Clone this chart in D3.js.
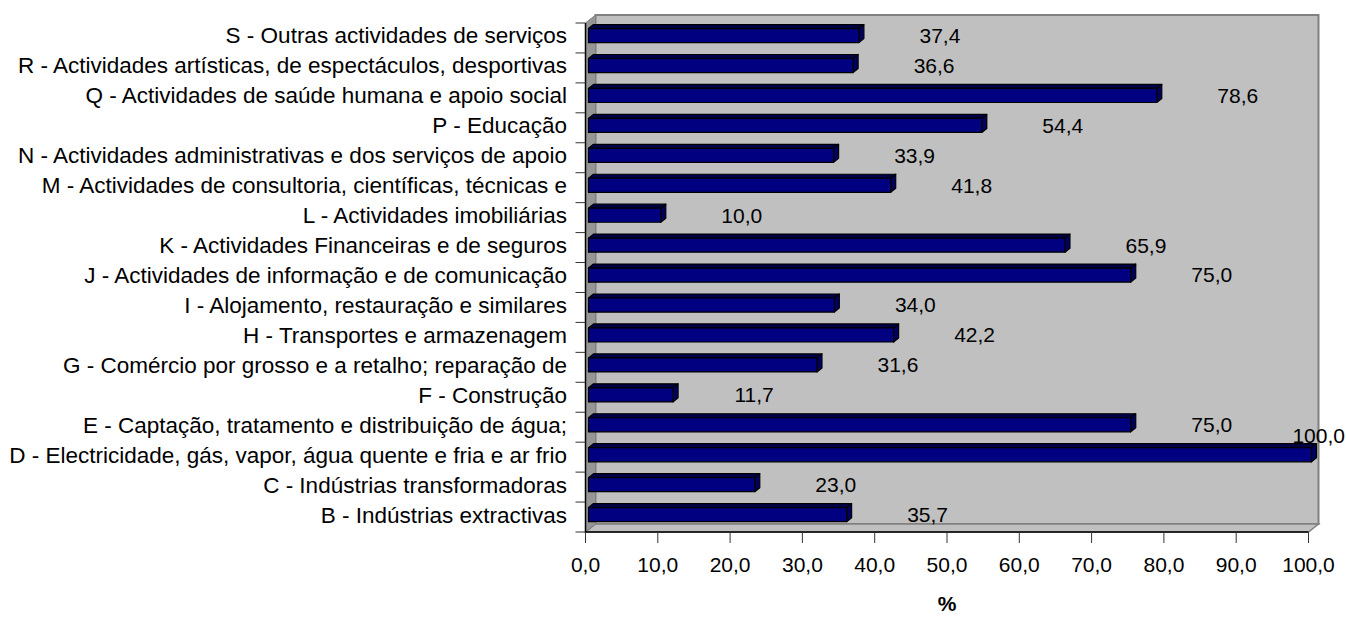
<!DOCTYPE html>
<html><head><meta charset="utf-8">
<script src="https://cdn.jsdelivr.net/npm/d3@7"></script>
<style>html,body{margin:0;padding:0;background:#fff;}svg{display:block;}</style>
</head><body>
<svg id="chart" width="1346" height="617"></svg>
<script>
const categories = [
  "B - Indústrias extractivas",
  "C - Indústrias transformadoras",
  "D - Electricidade, gás, vapor, água quente e fria e ar frio",
  "E - Captação, tratamento e distribuição de água;",
  "F - Construção",
  "G - Comércio por grosso e a retalho; reparação de",
  "H - Transportes e armazenagem",
  "I - Alojamento, restauração e similares",
  "J - Actividades de informação e de comunicação",
  "K - Actividades Financeiras e de seguros",
  "L - Actividades imobiliárias",
  "M - Actividades de consultoria, científicas, técnicas e",
  "N - Actividades administrativas e dos serviços de apoio",
  "P - Educação",
  "Q - Actividades de saúde humana e apoio social",
  "R - Actividades artísticas, de espectáculos, desportivas",
  "S - Outras actividades de serviços"
];
const values = [35.7, 23.0, 100.0, 75.0, 11.7, 31.6, 42.2, 34.0, 75.0, 65.9, 10.0, 41.8, 33.9, 54.4, 78.6, 36.6, 37.4];
const xTicks = [0, 10, 20, 30, 40, 50, 60, 70, 80, 90, 100];
const xTitle = "%";

(function () {
const W = 1346, H = 617;
const pL = 585.5, pR = 1308.5, pT = 23, pB = 532;
const ddx = 10, ddy = -8;      // wall depth offset
const fFront = 0.3, fBack = 0.8; // bar depth fractions
const FONT = "Liberation Sans, Arial, sans-serif";
const FS = 21, FSCAT = 22.5;

const svg = d3.select("#chart");
const x = d3.scaleLinear().domain([0, 100]).range([pL, pR]);
const y = d3.scaleBand().domain(categories.slice().reverse()).range([pT, pB]).padding(0);
const pts = a => a.map(p => p.join(",")).join(" ");

// Back wall
svg.append("rect").attr("x", pL + ddx).attr("y", pT + ddy)
  .attr("width", pR - pL).attr("height", pB - pT)
  .attr("fill", "#c0c0c0").attr("stroke", "#808080").attr("stroke-width", 2);
// Floor
svg.append("polygon")
  .attr("points", pts([[pL, pB], [pL + ddx, pB + ddy], [pR + ddx, pB + ddy], [pR, pB]]))
  .attr("fill", "#c0c0c0").attr("stroke", "#808080").attr("stroke-width", 1.5);
// Left side wall
svg.append("polygon")
  .attr("points", pts([[pL, pT], [pL + ddx, pT + ddy], [pL + ddx, pB + ddy], [pL, pB]]))
  .attr("fill", "#969696").attr("stroke", "#808080").attr("stroke-width", 1);

// Bars
const bh = y.bandwidth() * 0.47;
const ox = ddx * fFront, oy = ddy * fFront;
const dx = ddx * (fBack - fFront), dy = ddy * (fBack - fFront);
const bars = svg.append("g");
categories.forEach((c, i) => {
  const v = values[i];
  const yc = y(c) + y.bandwidth() / 2 + oy;
  const x0 = x(0) + ox, x1 = x(v) + ox;
  const y0 = yc - bh / 2, y1 = yc + bh / 2;
  const g = bars.append("g").attr("stroke", "#000").attr("stroke-width", 1.2).attr("stroke-linejoin", "round");
  g.append("polygon").attr("points", pts([[x0, y0], [x1, y0], [x1 + dx, y0 + dy], [x0 + dx, y0 + dy]]))
    .attr("fill", "#00004a");
  g.append("polygon").attr("points", pts([[x1, y0], [x1 + dx, y0 + dy], [x1 + dx, y1 + dy], [x1, y1]]))
    .attr("fill", "#000060");
  g.append("rect").attr("x", x0).attr("y", y0).attr("width", x1 - x0).attr("height", y1 - y0)
    .attr("fill", "#000080");
});

// Value labels
categories.forEach((c, i) => {
  const v = values[i];
  const yc = y(c) + y.bandwidth() / 2 + oy;
  let cx = x(v) + ox + 81;
  let cy = yc;
  const t = svg.append("text").attr("font-family", FONT).attr("font-size", FS).attr("fill", "#000")
    .attr("text-anchor", "middle").attr("dy", "0.35em")
    .text(d3.format(".1f")(v).replace(".", ","));
  t.attr("x", cx).attr("y", cy);
  const w = t.node().getComputedTextLength();
  if (cx + w / 2 > W - 1) {
    cx = W - 1 - w / 2;
    cy = yc - 19;
    t.attr("x", cx).attr("y", cy);
  }
});

// Category axis
const yAxis = svg.append("g");
yAxis.append("line").attr("x1", pL).attr("x2", pL).attr("y1", pT).attr("y2", pB)
  .attr("stroke", "#000").attr("stroke-width", 1.5);
const tickYs = categories.map(c => y(c)).concat([pB]);
tickYs.forEach(ty => {
  yAxis.append("line").attr("x1", pL - 10).attr("x2", pL).attr("y1", ty).attr("y2", ty)
    .attr("stroke", "#333").attr("stroke-width", 1);
});
categories.forEach(c => {
  yAxis.append("text").attr("x", 567).attr("y", y(c) + y.bandwidth() / 2 + oy)
    .attr("dy", "0.35em").attr("text-anchor", "end")
    .attr("font-family", FONT).attr("font-size", FSCAT).attr("fill", "#000").text(c);
});

// Value axis
const xAxis = svg.append("g");
xAxis.append("line").attr("x1", pL).attr("x2", pR).attr("y1", pB).attr("y2", pB)
  .attr("stroke", "#000").attr("stroke-width", 1.5);
xTicks.forEach(t => {
  xAxis.append("line").attr("x1", x(t)).attr("x2", x(t)).attr("y1", pB).attr("y2", pB + 11)
    .attr("stroke", "#333").attr("stroke-width", 1);
  xAxis.append("text").attr("x", x(t)).attr("y", 571.5).attr("text-anchor", "middle")
    .attr("font-family", FONT).attr("font-size", FS).attr("fill", "#000")
    .text(d3.format(".1f")(t).replace(".", ","));
});
svg.append("text").attr("x", (pL + pR) / 2).attr("y", 611).attr("text-anchor", "middle")
  .attr("font-family", FONT).attr("font-size", FS).attr("font-weight", "bold").attr("fill", "#000").text(xTitle);
})();
</script>
</body></html>
